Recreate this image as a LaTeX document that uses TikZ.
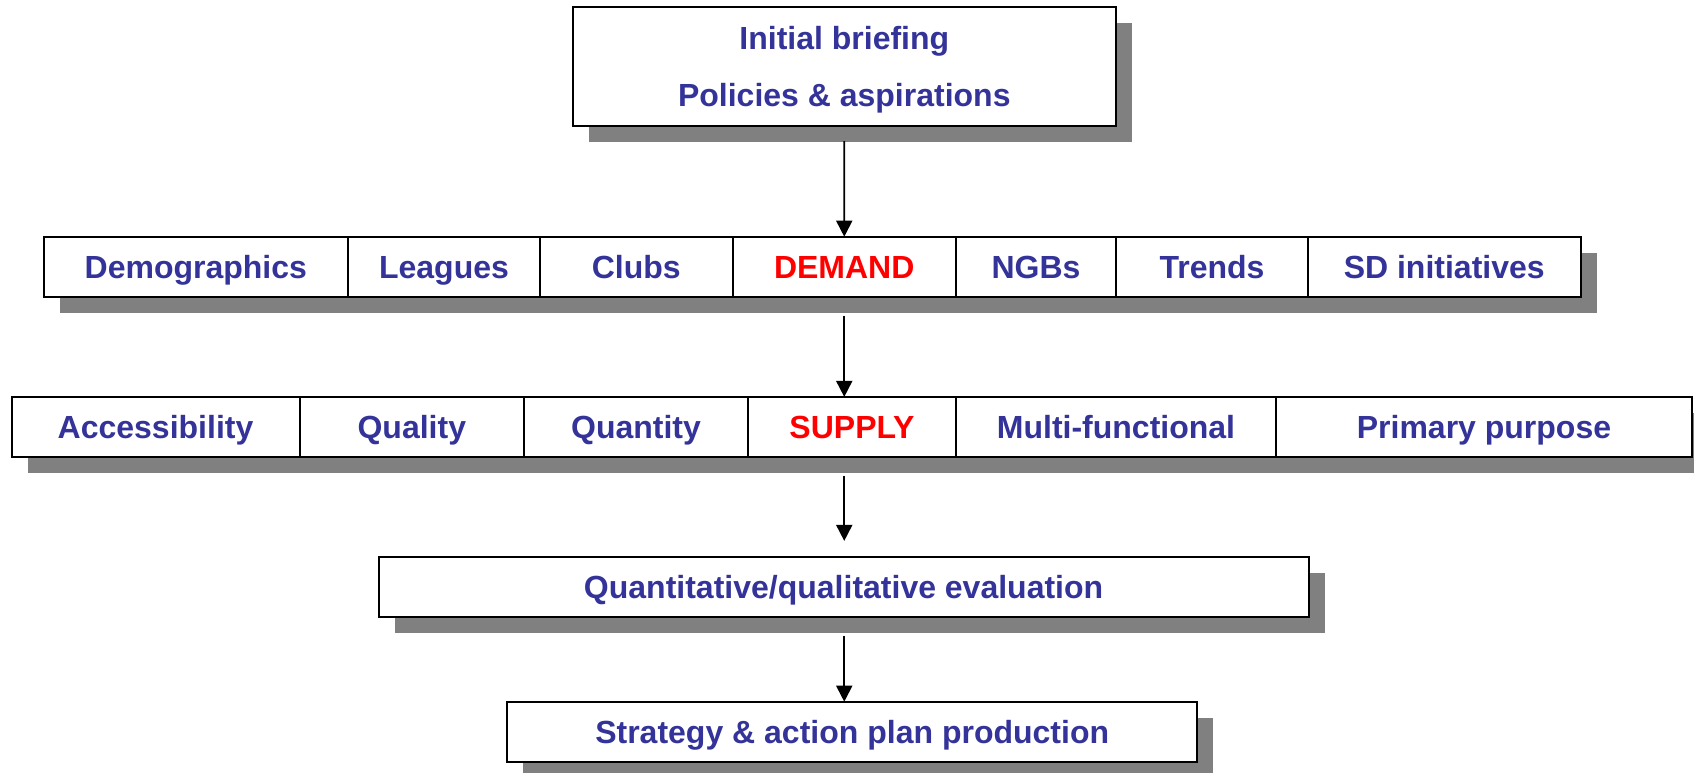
\documentclass[tikz,border=0pt]{standalone}
\usepackage{fontspec}
\setmainfont{Liberation Sans}
\usepackage{xcolor}
\usepackage{tikz}
\usetikzlibrary{positioning, arrows.meta, shadows}

\definecolor{txtblue}{HTML}{333399}
\definecolor{shadowgray}{HTML}{808080}

\begin{document}
\begin{tikzpicture}[x=1pt, y=-1pt,
    every node/.style={draw, line width=2pt, fill=white, inner sep=0pt, outer sep=0pt,
        minimum height=60pt, align=center, text=txtblue, text height=23pt, text depth=0pt,
        font=\bfseries\fontsize{32}{57}\selectfont,
        drop shadow={shadow xshift=16pt, shadow yshift=-16pt, opacity=1, fill=shadowgray}},
    core/.style={text=red},
    arr/.style={draw, line width=1.8pt, -{Triangle[length=16pt, width=16pt]}}
]
\useasboundingbox (0,0) rectangle (1694,772);

\node[minimum width=543.4pt, minimum height=118.7pt, text height=80pt] (brief) at (844.3,66.7)
    {Initial briefing\\Policies \& aspirations};

% demand row
\node[anchor=west, minimum width=304.4pt] (demo) at (43.6,266.7) {Demographics};
\node[minimum width=192pt, right=0pt of demo] (leag) {Leagues};
\node[minimum width=192.5pt, right=0pt of leag] (club) {Clubs};
\node[core, minimum width=223.5pt, right=0pt of club] (dem) {DEMAND};
\node[minimum width=160pt, right=0pt of dem] (ngb) {NGBs};
\node[minimum width=192pt, right=0pt of ngb] (trend) {Trends};
\node[minimum width=272.5pt, right=0pt of trend] (sdi) {SD initiatives};

% supply row
\node[anchor=west, minimum width=288.1pt] (acc) at (11.5,426.9) {Accessibility};
\node[minimum width=224.4pt, right=0pt of acc] (qual) {Quality};
\node[minimum width=224pt, right=0pt of qual] (quan) {Quantity};
\node[core, minimum width=208pt, right=0pt of quan] (sup) {SUPPLY};
\node[minimum width=320pt, right=0pt of sup] (multi) {Multi-functional};
\node[minimum width=416pt, right=0pt of multi] (prim) {Primary purpose};

\node[minimum width=930pt] (eval) at (843.6,586.9) {Quantitative/qualitative evaluation};
\node[minimum width=689.5pt] (plan) at (852.2,731.7) {Strategy \& action plan production};

\draw[arr] ([yshift=-15pt]brief.south) -- (dem.north);
\draw[arr] ([yshift=-19pt]dem.south) -- (dem |- sup.north);
\draw[arr] ([yshift=-19pt]dem |- sup.south) -- ([yshift=16pt]dem |- eval.north);
\draw[arr] ([yshift=-19pt]dem |- eval.south) -- (dem |- plan.north);
\end{tikzpicture}
\end{document}
